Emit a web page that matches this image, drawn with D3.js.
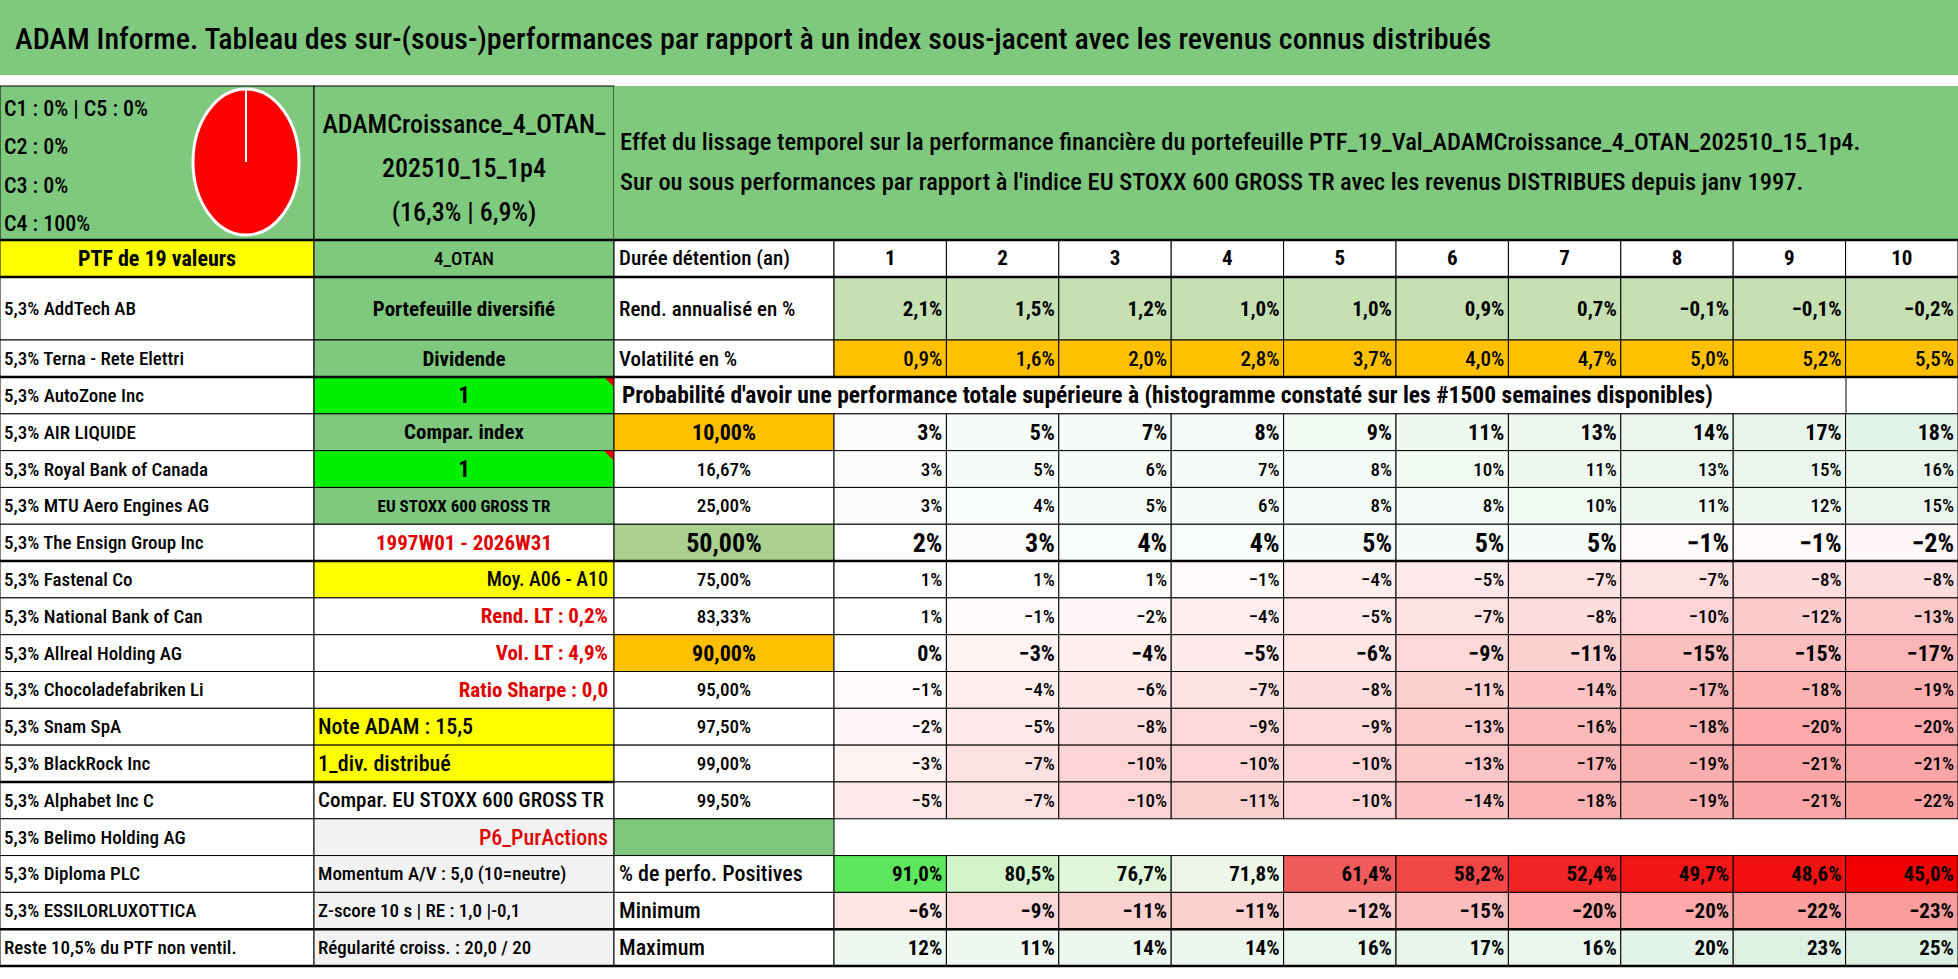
<!DOCTYPE html>
<html><head><meta charset="utf-8">
<script src="https://cdn.jsdelivr.net/npm/d3@7"></script>
<style>body{margin:0;background:#fff}svg{display:block}text{font-family:"Liberation Sans Narrow","Roboto Condensed","Arial Narrow",sans-serif}</style>
</head><body><svg id="c" width="1958" height="979"></svg>
<script>
const title = "ADAM Informe. Tableau des sur-(sous-)performances par rapport à un index sous-jacent avec les revenus connus distribués";
const pieLabels = ["C1 : 0% | C5 : 0%", "C2 : 0%", "C3 : 0%", "C4 : 100%"];
const pieValues = [0, 0, 0, 100, 0];
const portfolioName = ["ADAMCroissance_4_OTAN_", "202510_15_1p4", "(16,3% | 6,9%)"];
const headerText = ["Effet du lissage temporel sur la performance financière du portefeuille PTF_19_Val_ADAMCroissance_4_OTAN_202510_15_1p4.",
  "Sur ou sous performances par rapport à l'indice EU STOXX 600 GROSS TR avec les revenus DISTRIBUES depuis janv 1997."];
const durations = [1,2,3,4,5,6,7,8,9,10];
const rendement = [2.1,1.5,1.2,1.0,1.0,0.9,0.7,-0.1,-0.1,-0.2];
const volatilite = [0.9,1.6,2.0,2.8,3.7,4.0,4.7,5.0,5.2,5.5];
const holdings = ["5,3% AddTech AB","5,3% Terna - Rete Elettri","5,3% AutoZone Inc","5,3% AIR LIQUIDE","5,3% Royal Bank of Canada","5,3% MTU Aero Engines AG","5,3% The Ensign Group Inc","5,3% Fastenal Co","5,3% National Bank of Can","5,3% Allreal Holding AG","5,3% Chocoladefabriken Li","5,3% Snam SpA","5,3% BlackRock Inc","5,3% Alphabet Inc C","5,3% Belimo Holding AG","5,3% Diploma PLC","5,3% ESSILORLUXOTTICA","Reste 10,5% du PTF non ventil."];
const probLevels = ["10,00%","16,67%","25,00%","50,00%","75,00%","83,33%","90,00%","95,00%","97,50%","99,00%","99,50%"];
const probValues = [
 [3,5,7,8,9,11,13,14,17,18],
 [3,5,6,7,8,10,11,13,15,16],
 [3,4,5,6,8,8,10,11,12,15],
 [2,3,4,4,5,5,5,-1,-1,-2],
 [1,1,1,-1,-4,-5,-7,-7,-8,-8],
 [1,-1,-2,-4,-5,-7,-8,-10,-12,-13],
 [0,-3,-4,-5,-6,-9,-11,-15,-15,-17],
 [-1,-4,-6,-7,-8,-11,-14,-17,-18,-19],
 [-2,-5,-8,-9,-9,-13,-16,-18,-20,-20],
 [-3,-7,-10,-10,-10,-13,-17,-19,-21,-21],
 [-5,-7,-10,-11,-10,-14,-18,-19,-21,-22]];
const positives = [91.0,80.5,76.7,71.8,61.4,58.2,52.4,49.7,48.6,45.0];
const minimum = [-6,-9,-11,-11,-12,-15,-20,-20,-22,-23];
const maximum = [12,11,14,14,16,17,16,20,23,25];
const infoB = ["Portefeuille diversifié","Dividende","1","Compar. index","1","EU STOXX 600 GROSS TR","1997W01 - 2026W31","Moy. A06 - A10","Rend. LT : 0,2%","Vol. LT : 4,9%","Ratio Sharpe : 0,0","Note ADAM : 15,5","1_div. distribué","Compar. EU STOXX 600 GROSS TR","P6_PurActions","Momentum A/V : 5,0 (10=neutre)","Z-score 10 s | RE : 1,0 |-0,1","Régularité croiss. : 20,0 / 20"];
const statLabels = ["% de perfo. Positives","Minimum","Maximum"];

const svg = d3.select("#c");
const G="#7fc97f", Y="#ffff00", O="#ffc000", BG="#00ee00", GR="#f2f2f2";
const x = d3.scaleBand().domain(durations).range([834,1958]);
const rows = d3.range(16);
const y = d3.scaleBand().domain(rows).range([377,966]);
const fmt1 = v => d3.format(".1f")(v).replace(".",",")+"%";
const fmt0 = v => d3.format("d")(v)+"%";

function cell(x0,x1,y0,y1,fill){svg.append("rect").attr("x",x0).attr("y",y0).attr("width",x1-x0).attr("height",y1-y0).attr("fill",fill).attr("stroke","#000").attr("stroke-width",1);}
function txt(s,xx,yy,o={}){return svg.append("text").attr("x",xx).attr("y",yy).attr("dominant-baseline","central").attr("text-anchor",o.a||"start").attr("font-size",o.s||20).attr("font-weight",o.w||"500").attr("fill",o.c||"#000").text(s);}

svg.append("rect").attr("x",0).attr("y",0).attr("width",1958).attr("height",75).attr("fill",G);
txt(title,15,38,{s:30});
cell(0,314,86,240,G); cell(314,614,86,240,G); svg.append("rect").attr("x",614).attr("y",86).attr("width",1344).attr("height",154).attr("fill",G);
pieLabels.forEach((l,i)=>txt(l,4,108+i*38.5,{s:22}));
const pie = d3.pie().sort(null)(pieValues);
const arc = d3.arc().innerRadius(0).outerRadius(1);
const pg = svg.append("g").attr("transform","translate(246,162) scale(53,73)");
pg.selectAll("path").data(pie).join("path").attr("d",arc).attr("fill",(d,i)=>["#4472c4","#ed7d31","#a5a5a5","#ff0000","#ffc000"][i]);
svg.append("ellipse").attr("cx",246).attr("cy",162).attr("rx",53).attr("ry",73).attr("fill","none").attr("stroke","#fff").attr("stroke-width",3);
svg.append("line").attr("x1",246).attr("x2",246).attr("y1",89).attr("y2",162).attr("stroke","#fff").attr("stroke-width",2);
portfolioName.forEach((l,i)=>txt(l,464,124+i*44,{s:26,a:"middle"}));
headerText.forEach((l,i)=>txt(l,620,141+i*40,{s:24.5}));
cell(0,314,240,277,Y); txt("PTF de 19 valeurs",157,258,{s:22,a:"middle",w:"bold"});
cell(314,614,240,277,G); txt("4_OTAN",464,258,{s:19,a:"middle"});
cell(614,834,240,277,"#fff"); txt("Durée détention (an)",619,258,{s:21});
durations.forEach(d=>{cell(x(d),x(d)+x.bandwidth(),240,277,"#fff");txt(d,x(d)+x.bandwidth()/2,258,{s:21,a:"middle",w:"bold"});});
const topRows=[[277,340],[340,377]];
topRows.forEach(([a,b],i)=>{cell(0,314,a,b,"#fff");txt(holdings[i],4,(a+b)/2,{s:19});
 cell(314,614,a,b,G);txt(infoB[i],464,(a+b)/2,{s:21,a:"middle",w:"bold"});
 cell(614,834,a,b,"#fff");txt(i?"Volatilité en %":"Rend. annualisé en %",619,(a+b)/2,{s:21});
 const vals=i?volatilite:rendement;
 durations.forEach((d,j)=>{cell(x(d),x(d)+x.bandwidth(),a,b,i?O:"#c6e0b4");txt(fmt1(vals[j]),x(d)+x.bandwidth()-4,(a+b)/2,{s:21,a:"end",w:i?"500":"bold"});});
});
const negC=d3.scaleLinear().domain([0,-35]).range(["#ffffff","#f8696b"]);
const posC=d3.scaleLinear().domain([0,110]).range(["#ffffff","#63be7b"]);
const matC=v=>v<0?negC(v):posC(v);
const pctC=d3.scaleLinear().domain([45,55,62,72,80,91]).range(["#f00000","#f23030","#f06060","#eef9ec","#d6f5cf","#5ee65e"]);
rows.forEach(r=>{
 const a=y(r), b=a+y.bandwidth(), m=(a+b)/2;
 cell(0,314,a,b,"#fff"); txt(holdings[r+2],4,m,{s:19});
 let bf="#fff", bc="#000", ba="middle", bw="500", bs=20, bx=464;
 if([0,2].includes(r)){bf=BG;bw="bold";bs=23;}
 if([1,3].includes(r)){bf=G;bw="bold";bs=21;}
 if(r==3){bs=17;}
 if(r==4){bc="#e00000";bw="bold";bs=21;}
 if(r==5){bf=Y;ba="end";bx=608;}
 if([6,7,8].includes(r)){bc="#e00000";bw="bold";ba="end";bx=608;bs=21;}
 if([9,10].includes(r)){bf=Y;ba="start";bx=318;bs=22;}
 if(r==11){ba="start";bx=318;bs=21;}
 if(r==12){bf=GR;bc="#e00000";ba="end";bx=608;bs=22;}
 if(r>=13){bf=GR;ba="start";bx=318;bs=19;}
 cell(314,614,a,b,bf);
 const t=txt(infoB[r+2],bx,m,{s:bs,a:ba,w:bw,c:bc});
 if(r==11){svg.append("clipPath").attr("id","cp").append("rect").attr("x",314).attr("y",a).attr("width",298).attr("height",b-a);t.attr("clip-path","url(#cp)");}
 if(r==0||r==2){svg.append("path").attr("d",`M${604},${a} L614,${a} L614,${a+10}Z`).attr("fill","#e00000");}
 if(r==0){
  svg.append("rect").attr("x",614).attr("y",a).attr("width",1344).attr("height",b-a).attr("fill","#fff").attr("stroke","#000");
  svg.append("line").attr("x1",1846).attr("x2",1846).attr("y1",a).attr("y2",b).attr("stroke","#000");
  txt("Probabilité d'avoir une performance totale supérieure à (histogramme constaté sur les #1500 semaines disponibles)",622,m,{s:23.5,w:"bold"});
 } else if(r<=11){
  const k=r-1, lvl=probLevels[k];
  const cf=[0,6].includes(k)?O:(k==3?"#a9d08e":"#fff");
  const bold=[0,3,6].includes(k), big=k==3;
  cell(614,834,a,b,cf); txt(lvl,724,m,{s:big?26:(bold?22:19),a:"middle",w:bold?"bold":"500"});
  durations.forEach((d,j)=>{const v=probValues[k][j];cell(x(d),x(d)+x.bandwidth(),a,b,matC(v));
   txt(fmt0(v),x(d)+x.bandwidth()-4,m,{s:big?26:(bold?22:19),a:"end",w:bold?"bold":"500"});});
 } else if(r==12){
  cell(614,834,a,b,G);
 } else {
  const k=r-13; cell(614,834,a,b,"#fff"); txt(statLabels[k],619,m,{s:22});
  const vals=[positives,minimum,maximum][k];
  durations.forEach((d,j)=>{const v=vals[j];cell(x(d),x(d)+x.bandwidth(),a,b,k==0?pctC(v):matC(v));
   txt(k==0?fmt1(v):fmt0(v),x(d)+x.bandwidth()-4,m,{s:21,a:"end",w:"bold"});});
 }
});
[[0,1958,240],[0,1958,277],[0,1958,377],[0,1958,y(5)],[0,614,y(11)],[0,1958,y(15)],[0,1958,966]].forEach(([a,b,yy])=>svg.append("line").attr("x1",a).attr("x2",b).attr("y1",yy).attr("y2",yy).attr("stroke","#000").attr("stroke-width",2.5));
</script></body></html>
